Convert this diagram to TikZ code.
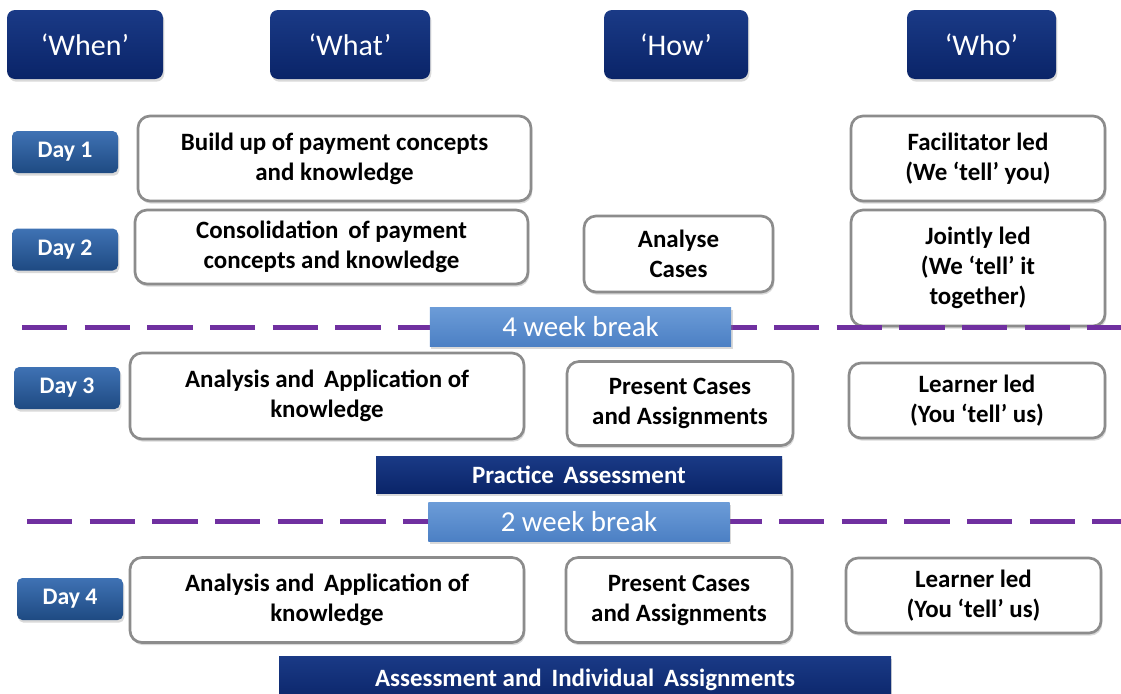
\documentclass[tikz,border=0pt]{standalone}
\usepackage{fontspec}
\setmainfont{Carlito}
\usepackage{tikz}
\usetikzlibrary {positioning,
                 shadows}
\definecolor{navy}{HTML}{0A2468}
\definecolor{navytop}{HTML}{1A3A86}
\definecolor{daytop}{HTML}{3F72B4}
\definecolor{daybot}{HTML}{1E4A82}
\definecolor{brktop}{HTML}{6C9CD8}
\definecolor{brkbot}{HTML}{4C80C4}
\definecolor{dashpurple}{HTML}{7030A0}
\tikzset{
        base/.style={align=center, inner sep=2pt},
        softshadow/.style={drop shadow={shadow xshift=1pt, shadow yshift=-2pt,
                           opacity=0.3}},
        head/.style={base, rounded corners=6pt, top color=navytop,
                     bottom color=navy, text=white, softshadow,
                     minimum height=51.75pt,
                     font=\fontsize{22.5}{26}\selectfont},
        day/.style={base, rounded corners=4pt, top color=daytop,
                    bottom color=daybot, text=white, softshadow,
                    minimum width=79.5pt, minimum height=31.5pt,
                    font=\bfseries\fontsize{17.8}{20}\selectfont},
        task/.style={base, draw=black!45, line width=2pt, rounded corners=9pt,
                     fill=white, softshadow,
                     font=\bfseries\fontsize{18.7}{22.5}\selectfont},
        brk/.style={base, top color=brktop, bottom color=brkbot, text=white,
                    softshadow, minimum width=226pt, minimum height=29.25pt,
                    font=\fontsize{21.7}{24}\selectfont},
        assess/.style={base, top color=navytop, bottom color=navy, text=white,
                       softshadow, minimum height=28pt,
                       font=\bfseries\fontsize{18.7}{21}\selectfont},
        breakline/.style={line width=3.75pt, dashpurple,
                          dash pattern=on 34pt off 13pt},
 }
\begin{document}
\begin{tikzpicture}[x=0.75pt, y=-0.75pt]
        \useasboundingbox (0,0) rectangle (1121,693);

        % column headers
        \node[head, minimum width=117pt] (when) at (85,44.5) {‘When’};
        \node[head, minimum width=120pt] (what) at (350,44.5) {‘What’};
        \node[head, minimum width=108pt] (how) at (676,44.5) {‘How’};
        \node[head, minimum width=111.75pt] (who) at (981.5,44.5) {‘Who’};

        % days
        \node[day] (day1) at (65,152) {Day 1};
        \node[day] (day2) at (65,249.5) {Day 2};
        \node[day] (day3) at (67,388) {Day 3};
        \node[day] (day4) at (70,599) {Day 4};

        \node[task, minimum width=294.75pt, minimum height=63.75pt] (build)
              at (334.5,158.5) {Build up of payment concepts\\and knowledge};
        \node[task, minimum width=294.75pt, minimum height=55.5pt] (consol)
              at (331.5,247) {Consolidation\, of payment\\concepts and knowledge};
        \node[task, minimum width=141.75pt, minimum height=57pt] (analyse)
              at (678.5,254) {Analyse\\Cases};
        \node[task, minimum width=190.5pt, minimum height=63.75pt] (facil)
              at (978,158.5) {Facilitator led\\(We ‘tell’ you)};
        \node[task, minimum width=190.5pt, minimum height=87pt] (joint)
              at (978,268) {Jointly led\\(We ‘tell’ it\\together)};

        \node[task, minimum width=295.5pt, minimum height=64.5pt] (apply3)
              at (327,396) {Analysis and\, Application of\\knowledge};
        \node[task, minimum width=169.5pt, minimum height=63pt] (present3)
              at (680,403.5) {Present Cases\\and Assignments};
        \node[task, minimum width=192pt, minimum height=56.25pt] (learner3)
              at (977,400.5) {Learner led\\(You ‘tell’ us)};

        \node[task, minimum width=295.5pt, minimum height=63.75pt] (apply4)
              at (327,600) {Analysis and\, Application of\\knowledge};
        \node[task, minimum width=169.5pt, minimum height=63.75pt] (present4)
              at (679,600) {Present Cases\\and Assignments};
        \node[task, minimum width=191.25pt, minimum height=56.25pt] (learner4)
              at (973.5,595.5) {Learner led\\(You ‘tell’ us)};

        % breaks
        \coordinate (cut4l) at (22,327);
        \coordinate (cut4r) at (1121,327);
        \coordinate (cut2l) at (27,521);
        \coordinate (cut2r) at (1121,521);
        \draw[breakline] (cut4l) -- (cut4r);
        \draw[breakline] (cut2l) -- (cut2r);

        \node[brk] (break4) at (580.5,326.5) {4 week break};
        \node[brk] (break2) at (579,521.5) {2 week break};

        \node[assess, minimum width=304.5pt] (practice) at (579,475)
              {Practice\, Assessment};
        \node[assess, minimum width=459pt, minimum height=36pt] (final)
              at (585,680) {Assessment and\, Individual\, Assignments};

\end{tikzpicture}
\end{document}
